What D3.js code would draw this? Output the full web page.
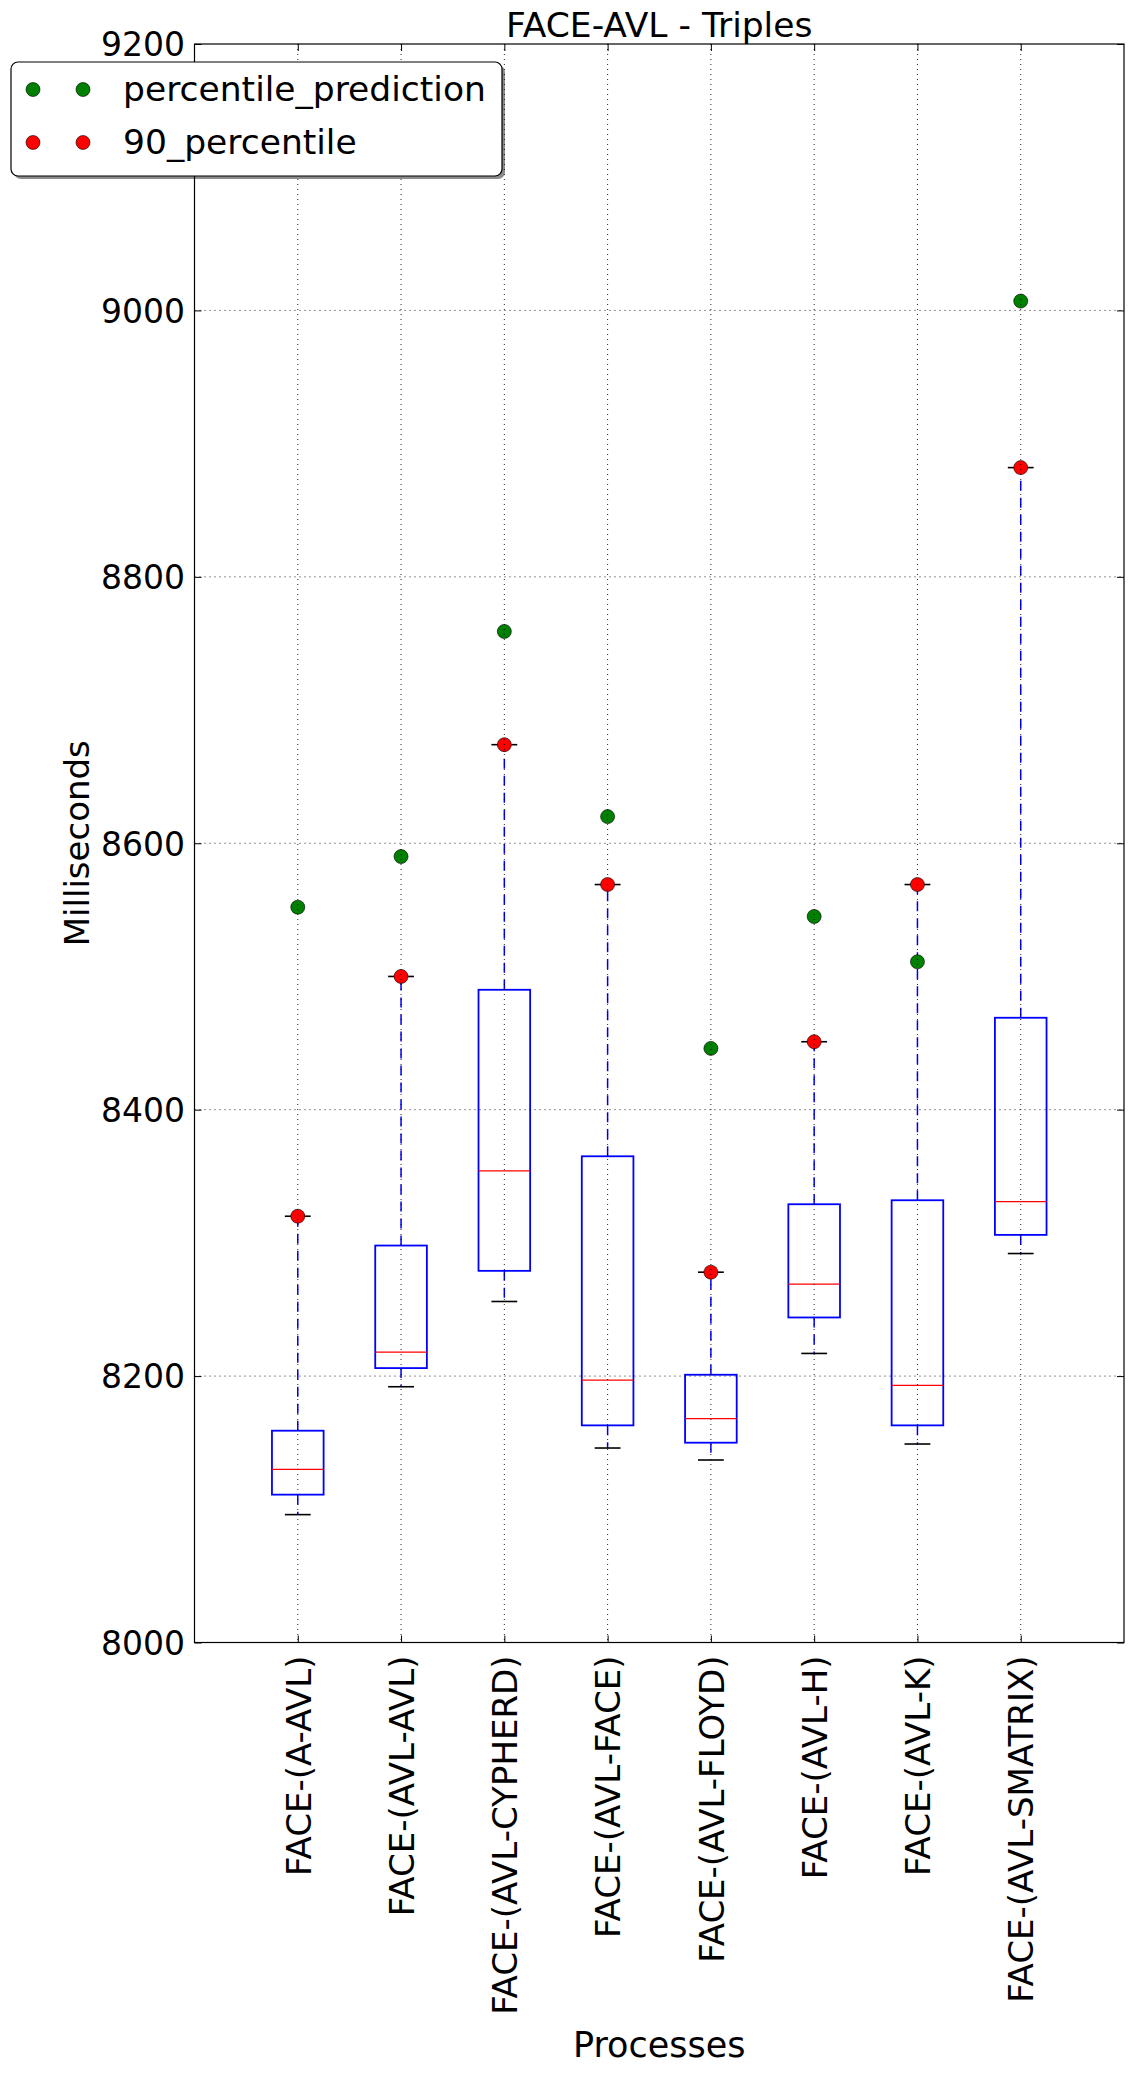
<!DOCTYPE html>
<html><head><meta charset="utf-8">
<script src="https://cdn.jsdelivr.net/npm/d3@7"></script>
<style>
body{margin:0;background:#fff}
svg{display:block}
text{font-family:"DejaVu Sans",sans-serif;fill:#000}
</style>
</head><body>
<svg id="chart" width="1133" height="2074"></svg>
<script>
// ---- data ----
const categories = ["FACE-(A-AVL)", "FACE-(AVL-AVL)", "FACE-(AVL-CYPHERD)", "FACE-(AVL-FACE)",
                    "FACE-(AVL-FLOYD)", "FACE-(AVL-H)", "FACE-(AVL-K)", "FACE-(AVL-SMATRIX)"];
const whiskerLow  = [8096, 8192, 8256, 8146, 8137, 8217, 8149, 8292];
const q1          = [8111, 8206, 8279, 8163, 8150, 8244, 8163, 8306];
const median      = [8130, 8218, 8354, 8197, 8168, 8269, 8193, 8331];
const q3          = [8159, 8298, 8490, 8365, 8201, 8329, 8332, 8469];
const whiskerHigh = [8320, 8500, 8674, 8569, 8278, 8451, 8569, 8882];
const percentile90 = [8320, 8500, 8674, 8569, 8278, 8451, 8569, 8882];
const percentilePrediction = [8552, 8590, 8759, 8620, 8446, 8545, 8511, 9007];
const yTicks = [8000, 8200, 8400, 8600, 8800, 9000, 9200];
const legendLabels = ["percentile_prediction", "90_percentile"];
const legendColors = ["#008000", "#ff0000"];
const titleText = "FACE-AVL - Triples";
const xLabel = "Processes";
const yLabel = "Milliseconds";

// ---- layout ----
const m = {left: 194.5, right: 1124, top: 44, bottom: 1642.5};
const svg = d3.select("#chart");
const x = d3.scaleLinear().domain([0, categories.length + 1]).range([m.left, m.right]);
const y = d3.scaleLinear().domain([8000, 9200]).range([m.bottom, m.top]);
const positions = categories.map((c, i) => i + 1);
const boxW = (x(1) - x(0)) * 0.5;
const capW = boxW * 0.5;
const TICK = 7;

const data = categories.map((c, i) => ({
  c, p: positions[i], lo: whiskerLow[i], q1: q1[i], med: median[i], q3: q3[i],
  hi: whiskerHigh[i], p90: percentile90[i], pred: percentilePrediction[i]
}));

const plot = svg.append("g");

// whiskers
plot.selectAll(".wh-hi").data(data).join("line")
  .attr("x1", d => x(d.p)).attr("x2", d => x(d.p))
  .attr("y1", d => y(d.q3)).attr("y2", d => y(d.hi))
  .attr("stroke", "#0000ff").attr("stroke-width", 1.5).attr("stroke-dasharray", "10,7");
plot.selectAll(".wh-lo").data(data).join("line")
  .attr("x1", d => x(d.p)).attr("x2", d => x(d.p))
  .attr("y1", d => y(d.q1)).attr("y2", d => y(d.lo))
  .attr("stroke", "#0000ff").attr("stroke-width", 1.5).attr("stroke-dasharray", "10,7");
// caps
plot.selectAll(".cap-hi").data(data).join("line")
  .attr("x1", d => x(d.p) - capW / 2).attr("x2", d => x(d.p) + capW / 2)
  .attr("y1", d => y(d.hi)).attr("y2", d => y(d.hi))
  .attr("stroke", "#000").attr("stroke-width", 1.6);
plot.selectAll(".cap-lo").data(data).join("line")
  .attr("x1", d => x(d.p) - capW / 2).attr("x2", d => x(d.p) + capW / 2)
  .attr("y1", d => y(d.lo)).attr("y2", d => y(d.lo))
  .attr("stroke", "#000").attr("stroke-width", 1.6);
// boxes
plot.selectAll(".box").data(data).join("rect")
  .attr("x", d => x(d.p) - boxW / 2).attr("width", boxW)
  .attr("y", d => y(d.q3)).attr("height", d => y(d.q1) - y(d.q3))
  .attr("fill", "none").attr("stroke", "#0000ff").attr("stroke-width", 1.8);
// medians
plot.selectAll(".med").data(data).join("line")
  .attr("x1", d => x(d.p) - boxW / 2).attr("x2", d => x(d.p) + boxW / 2)
  .attr("y1", d => y(d.med)).attr("y2", d => y(d.med))
  .attr("stroke", "#ff0000").attr("stroke-width", 1.3);
// markers
plot.selectAll(".pred").data(data).join("circle")
  .attr("cx", d => x(d.p)).attr("cy", d => y(d.pred)).attr("r", 7)
  .attr("fill", legendColors[0]).attr("stroke", "#000").attr("stroke-width", 0.6);
plot.selectAll(".p90").data(data).join("circle")
  .attr("cx", d => x(d.p)).attr("cy", d => y(d.p90)).attr("r", 7)
  .attr("fill", legendColors[1]).attr("stroke", "#000").attr("stroke-width", 0.6);

// grid (drawn over the marks, as in the reference)
const grid = svg.append("g").attr("stroke", "#000").attr("stroke-width", 1)
  .attr("stroke-dasharray", "1,4").attr("opacity", 0.85);
grid.selectAll(".gy").data(yTicks.filter(v => v > 8000 && v < 9200)).join("line")
  .attr("x1", m.left).attr("x2", m.right).attr("y1", d => y(d)).attr("y2", d => y(d));
grid.selectAll(".gx").data(positions).join("line")
  .attr("y1", m.top).attr("y2", m.bottom).attr("x1", d => x(d)).attr("x2", d => x(d));

// axes with inward ticks
const gl = svg.append("g").attr("transform", `translate(${m.left},0)`)
  .call(d3.axisLeft(y).tickValues(yTicks).tickSize(-TICK).tickSizeOuter(0).tickPadding(9.5).tickFormat(d3.format("d")));
gl.selectAll("text").style("font-size", "33px").attr("dy", "0.36em");
const gr = svg.append("g").attr("transform", `translate(${m.right},0)`)
  .call(d3.axisRight(y).tickValues(yTicks).tickSize(-TICK).tickSizeOuter(0).tickFormat(""));
const gb = svg.append("g").attr("transform", `translate(0,${m.bottom})`)
  .call(d3.axisBottom(x).tickValues(positions).tickSize(-TICK).tickSizeOuter(0).tickFormat((d, i) => categories[i]));
gb.selectAll("text").style("font-size", "34px")
  .attr("transform", "rotate(-90)").attr("x", -13).attr("y", 0).attr("dy", "0.36em")
  .style("text-anchor", "end");
const gt = svg.append("g").attr("transform", `translate(0,${m.top})`)
  .call(d3.axisTop(x).tickValues(positions).tickSize(-TICK).tickSizeOuter(0).tickFormat(""));
[gl, gr, gb, gt].forEach(g => { g.select(".domain").remove(); g.selectAll(".tick line").attr("stroke", "#000").attr("stroke-width", 1); });

// frame
svg.append("rect").attr("x", m.left).attr("y", m.top)
  .attr("width", m.right - m.left).attr("height", m.bottom - m.top)
  .attr("fill", "none").attr("stroke", "#000").attr("stroke-width", 1.2);

// titles
svg.append("text").attr("x", (m.left + m.right) / 2).attr("y", 36.5)
  .attr("text-anchor", "middle").style("font-size", "34.5px").text(titleText);
svg.append("text").attr("x", (m.left + m.right) / 2).attr("y", 2057)
  .attr("text-anchor", "middle").style("font-size", "35px").text(xLabel);
svg.append("text").attr("transform", `translate(89,${(m.top + m.bottom) / 2}) rotate(-90)`)
  .attr("text-anchor", "middle").style("font-size", "34px").text(yLabel);

// legend
const lg = svg.append("g");
const L = {x: 11, y: 62, w: 491, h: 114};
lg.append("rect").attr("x", L.x + 3).attr("y", L.y + 3).attr("width", L.w).attr("height", L.h)
  .attr("rx", 7).attr("fill", "#000").attr("opacity", 0.45);
lg.append("rect").attr("x", L.x).attr("y", L.y).attr("width", L.w).attr("height", L.h)
  .attr("rx", 7).attr("fill", "#fff").attr("stroke", "#000").attr("stroke-width", 1.2);
const rowY = [89.5, 142.5];
legendLabels.forEach((lab, i) => {
  [33, 83].forEach(cx => lg.append("circle").attr("cx", cx).attr("cy", rowY[i]).attr("r", 7)
    .attr("fill", legendColors[i]).attr("stroke", "#000").attr("stroke-width", 0.6));
  lg.append("text").attr("x", 123).attr("y", rowY[i] + 11.5).style("font-size", "34.5px").text(lab);
});
</script>
</body></html>
